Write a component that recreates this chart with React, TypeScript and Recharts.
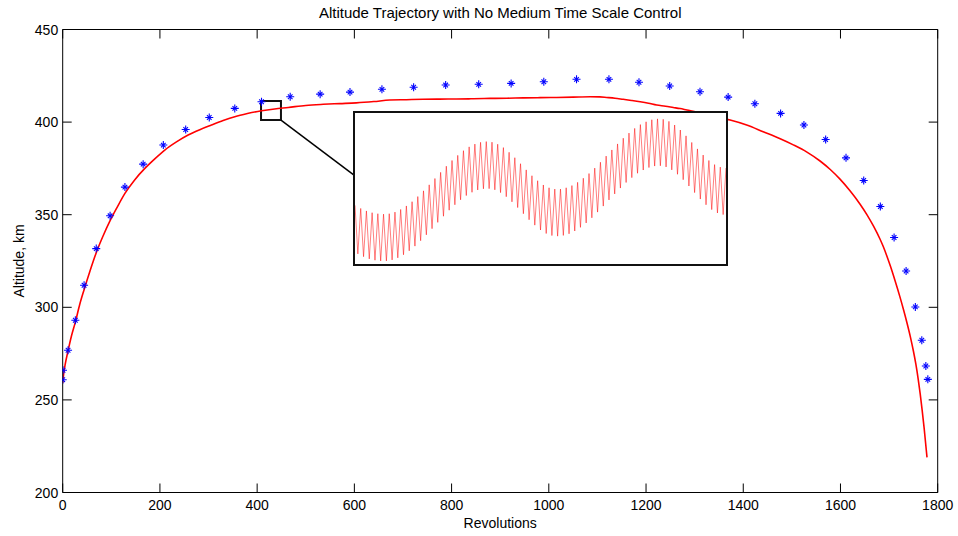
import React from 'react';
import { ComposedChart, LineChart, Line, Scatter, XAxis, YAxis, ReferenceArea, ReferenceLine } from 'recharts';

// ---- data ----
const xTicks = [0, 200, 400, 600, 800, 1000, 1200, 1400, 1600, 1800];
const yTicks = [200, 250, 300, 350, 400, 450];

const redRev = [0, 2, 5, 11, 18, 26, 35, 44, 56, 69, 83, 97, 112, 128, 148, 169, 190, 210, 234, 258, 282, 306, 330, 354, 380, 409, 436, 464, 500, 536, 570, 604, 640, 673, 707, 741, 775, 810, 845, 879, 914, 948, 982, 1016, 1050, 1085, 1105, 1119, 1136, 1153, 1170, 1188, 1205, 1222, 1240, 1256, 1270, 1284, 1304, 1330, 1355, 1373, 1407, 1441, 1476, 1503, 1531, 1558, 1579, 1599, 1620, 1640, 1654, 1668, 1681, 1688, 1695, 1703, 1712, 1722, 1730, 1737, 1744, 1750, 1755, 1760, 1764, 1768, 1772, 1775, 1778];
const redAlt = [259, 264, 269, 276.5, 284.5, 292, 301.5, 309.5, 319.5, 329.5, 338.5, 346.5, 354, 361.5, 368.8, 375, 380.3, 384.9, 389.3, 393, 395.9, 398.4, 400.8, 402.9, 404.6, 406.1, 407.1, 407.9, 409, 409.6, 410, 410.4, 411.1, 411.9, 412.1, 412.3, 412.4, 412.5, 412.6, 412.8, 412.9, 413.1, 413.2, 413.3, 413.5, 413.7, 413.6, 413.3, 412.9, 412.3, 411.7, 411, 410.2, 409.2, 408.6, 407.9, 407.3, 406.5, 405.4, 403.6, 402.2, 401.1, 398.4, 394.8, 391.0, 387.7, 383.8, 379.0, 374.4, 369.2, 362.8, 355.8, 350.2, 343.8, 337.0, 332.8, 328.0, 322.0, 314.6, 305.9, 298.4, 291.4, 283.8, 276.4, 269.4, 261.0, 253.2, 244.5, 235.0, 227.0, 219.0];

const blueRev = [0, 0.6, 11, 26, 44, 69, 97.5, 128, 165.5, 207, 253, 301.5, 354, 409, 468, 529.6, 591, 656.7, 721.9, 787.8, 855.8, 922.5, 989.7, 1057, 1123.7, 1185.5, 1248.7, 1311, 1368.9, 1423.9, 1476.8, 1524.8, 1569.5, 1611.4, 1647.8, 1682, 1710.3, 1735, 1754, 1767.3, 1775.6, 1779.7];
const blueAlt = [260.9, 266, 276.8, 293, 311.9, 331.7, 349.4, 364.9, 377.3, 387.6, 396, 402.5, 407.4, 411, 413.7, 415.1, 416.2, 417.7, 418.8, 420, 420.4, 420.9, 421.8, 423.1, 423.1, 421.5, 419.5, 416.4, 413.5, 409.9, 404.7, 398.4, 390.6, 380.7, 368.5, 354.4, 337.7, 319.6, 300.2, 282.2, 268.3, 261.1];

// zoom window (revolutions / km) and connector annotation
const zoomRev = [408, 449];
const zoomAlt = [401.1, 411.4];
const connectorRev = [449, 599.3];
const connectorAlt = [401.1, 371.4];

// inset: altitude samples inside the zoom window
const insetAlt = [
  405.10, 401.79, 404.89, 401.60, 404.72, 401.45, 404.60, 401.36, 404.53, 401.31,
  404.50, 401.31, 404.53, 401.38, 404.64, 401.52, 404.82, 401.73, 405.06, 402.00,
  405.35, 402.32, 405.70, 402.69, 406.09, 403.09, 406.50, 403.51, 406.93, 403.94,
  407.35, 404.36, 407.77, 404.77, 408.16, 405.14, 408.51, 405.48, 408.83, 405.77,
  409.09, 405.99, 409.28, 406.15, 409.40, 406.23, 409.45, 406.24, 409.41, 406.16,
  409.27, 405.97, 409.04, 405.69, 408.72, 405.34, 408.35, 404.95, 407.94, 404.53,
  407.52, 404.12, 407.12, 403.75, 406.78, 403.42, 406.49, 403.18, 406.30, 403.04,
  406.21, 403.00, 406.21, 403.05, 406.30, 403.16, 406.45, 403.35, 406.67, 403.60,
  406.95, 403.90, 407.27, 404.25, 407.64, 404.64, 408.04, 405.05, 408.46, 405.47,
  408.88, 405.88, 409.29, 406.28, 409.68, 406.66, 410.03, 406.99, 410.35, 407.29,
  410.61, 407.51, 410.80, 407.68, 410.94, 407.78, 411.00, 407.80, 410.97, 407.72,
  410.83, 407.52, 410.58, 407.22, 410.24, 406.85, 409.84, 406.42, 409.39, 405.97,
  408.95, 405.53, 408.53, 405.14, 408.16, 404.81, 407.88, 404.58, 407.71, 404.47,
  407.65,
];

const redData = redRev.map((x, i) => ({ x, y: redAlt[i] }));
const blueData = blueRev.map((x, i) => ({ x, y: blueAlt[i] }));
const insetData = insetAlt.map((v, i) => ({ i, v }));

// ---- layout ----
const W = 958;
const H = 536;
const PL = 62.7;
const PT = 29.5;
const PR = 937.7;
const PB = 492.5;
const BOTTOM_AXIS_H = 30;
const LEFT_AXIS_W = 50;
const TOP_AXIS_H = 5;
const RIGHT_AXIS_W = 5;
const TICK = 9;
const FONT = '"Liberation Sans", Arial, Helvetica, sans-serif';
const FS = 14;

const BottomTick = (props: any) => {
  const { x, payload } = props;
  return (
    <g>
      <line x1={x} x2={x} y1={PB} y2={PB - TICK} stroke="#000" strokeWidth={1} />
      <text x={x} y={PB + 17.5} textAnchor="middle" fontSize={FS} fontFamily={FONT} fill="#000">
        {payload.value}
      </text>
    </g>
  );
};
const TopTick = (props: any) => {
  const { x } = props;
  return <line x1={x} x2={x} y1={PT} y2={PT + TICK} stroke="#000" strokeWidth={1} />;
};
const LeftTick = (props: any) => {
  const { y, payload } = props;
  return (
    <g>
      <line x1={PL} x2={PL + TICK} y1={y} y2={y} stroke="#000" strokeWidth={1} />
      <text x={PL - 4.5} y={y + 5} textAnchor="end" fontSize={FS} fontFamily={FONT} fill="#000">
        {payload.value}
      </text>
    </g>
  );
};
const RightTick = (props: any) => {
  const { y } = props;
  return <line x1={PR} x2={PR - TICK} y1={y} y2={y} stroke="#000" strokeWidth={1} />;
};

const Asterisk = (props: any) => {
  const { cx, cy } = props;
  if (cx == null || cy == null) return null;
  return (
    <g stroke="#0000ff" strokeWidth={1.1}>
      <line x1={cx - 4} x2={cx + 4} y1={cy} y2={cy} />
      <line x1={cx} x2={cx} y1={cy - 4} y2={cy + 4} />
      <line x1={cx - 2.3} x2={cx + 2.3} y1={cy - 2.3} y2={cy + 2.3} />
      <line x1={cx - 2.3} x2={cx + 2.3} y1={cy + 2.3} y2={cy - 2.3} />
    </g>
  );
};

export default function App() {
  return (
    <div style={{ position: 'fixed', left: 0, top: 0, width: W, height: H, background: '#fff' }}>
      <ComposedChart
        width={W}
        height={H}
        margin={{
          top: PT - TOP_AXIS_H,
          left: PL - LEFT_AXIS_W,
          right: W - PR - RIGHT_AXIS_W,
          bottom: H - PB - BOTTOM_AXIS_H,
        }}
      >
        <XAxis
          xAxisId="b"
          type="number"
          dataKey="x"
          domain={[0, 1800]}
          ticks={xTicks}
          interval={0}
          allowDataOverflow
          height={BOTTOM_AXIS_H}
          tickSize={0}
          tickMargin={0}
          tickLine={false}
          axisLine={{ stroke: '#000', strokeWidth: 1 }}
          tick={<BottomTick />}
        />
        <XAxis
          xAxisId="t"
          orientation="top"
          type="number"
          dataKey="x"
          domain={[0, 1800]}
          ticks={xTicks}
          interval={0}
          allowDataOverflow
          height={TOP_AXIS_H}
          tickSize={0}
          tickMargin={0}
          tickLine={false}
          axisLine={{ stroke: '#000', strokeWidth: 1 }}
          tick={<TopTick />}
        />
        <YAxis
          yAxisId="l"
          type="number"
          dataKey="y"
          domain={[200, 450]}
          ticks={yTicks}
          interval={0}
          allowDataOverflow
          width={LEFT_AXIS_W}
          tickSize={0}
          tickMargin={0}
          tickLine={false}
          axisLine={{ stroke: '#000', strokeWidth: 1 }}
          tick={<LeftTick />}
        />
        <YAxis
          yAxisId="r"
          orientation="right"
          type="number"
          dataKey="y"
          domain={[200, 450]}
          ticks={yTicks}
          interval={0}
          allowDataOverflow
          width={RIGHT_AXIS_W}
          tickSize={0}
          tickMargin={0}
          tickLine={false}
          axisLine={{ stroke: '#000', strokeWidth: 1 }}
          tick={<RightTick />}
        />
        <Line
          xAxisId="b"
          yAxisId="l"
          data={redData}
          dataKey="y"
          type="monotone"
          stroke="#ff0000"
          strokeWidth={1.6}
          dot={false}
          activeDot={false}
          isAnimationActive={false}
        />
        <Scatter
          xAxisId="b"
          yAxisId="l"
          data={blueData}
          dataKey="y"
          shape={<Asterisk />}
          isAnimationActive={false}
        />
        <ReferenceArea
          xAxisId="b"
          yAxisId="l"
          x1={zoomRev[0]}
          x2={zoomRev[1]}
          y1={zoomAlt[0]}
          y2={zoomAlt[1]}
          fill="none"
          fillOpacity={0}
          stroke="#111"
          strokeWidth={2}
          ifOverflow="visible"
        />
        <ReferenceLine
          xAxisId="b"
          yAxisId="l"
          segment={[
            { x: connectorRev[0], y: connectorAlt[0] },
            { x: connectorRev[1], y: connectorAlt[1] },
          ]}
          stroke="#000"
          strokeWidth={1.5}
          ifOverflow="visible"
        />
      </ComposedChart>

      <div
        style={{
          position: 'absolute',
          left: 353,
          top: 111,
          width: 375,
          height: 155,
          boxSizing: 'border-box',
          border: '2px solid #111',
          background: '#fff',
        }}
      >
        <LineChart width={371} height={151} data={insetData} margin={{ top: 0, right: 0, bottom: 0, left: 0 }}>
          <XAxis dataKey="i" type="number" domain={[0, insetAlt.length - 1]} hide />
          <YAxis type="number" domain={[zoomAlt[0], zoomAlt[1]]} hide allowDataOverflow />
          <Line
            dataKey="v"
            type="linear"
            stroke="#ff0000"
            strokeOpacity={0.5}
            strokeWidth={1}
            dot={false}
            activeDot={false}
            isAnimationActive={false}
          />
        </LineChart>
      </div>

      <svg
        width={W}
        height={H}
        style={{ position: 'absolute', left: 0, top: 0, pointerEvents: 'none' }}
      >
        <text x={(PL + PR) / 2} y={18} textAnchor="middle" fontSize={15} fontFamily={FONT} fill="#000">
          Altitude Trajectory with No Medium Time Scale Control
        </text>
        <text x={(PL + PR) / 2} y={528} textAnchor="middle" fontSize={FS} fontFamily={FONT} fill="#000">
          Revolutions
        </text>
        <text
          x={24}
          y={(PT + PB) / 2}
          textAnchor="middle"
          fontSize={FS}
          fontFamily={FONT}
          fill="#000"
          transform={`rotate(-90 24 ${(PT + PB) / 2})`}
        >
          Altitude, km
        </text>
      </svg>
    </div>
  );
}
